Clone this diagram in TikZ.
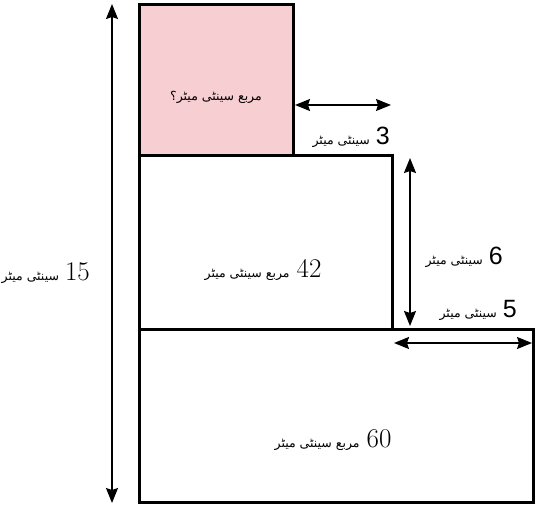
\documentclass[tikz,border=0pt]{standalone}
\usepackage{fontspec}
\usetikzlibrary{arrows.meta}
\newfontfamily\urdufont[Script=Arabic]{DejaVu Sans}
\newfontfamily\numsans{Liberation Sans}
\TeXXeTstate=1
\definecolor{areapink}{RGB}{247,206,209}
\newcommand{\cm}{{\fontsize{12.5bp}{15bp}\urdufont\beginR سینٹی میٹر\endR}\hspace{6bp}}
\newcommand{\sqcm}{{\fontsize{12.5bp}{15bp}\urdufont\beginR مربع سینٹی میٹر\endR}\hspace{7bp}}

\begin{document}
\begin{tikzpicture}[
    x=1bp, y=-1bp,
    >={Stealth[length=15bp, width=12bp, inset=2bp]},
    part/.style={draw, line width=3bp},
    dim/.style={<->, line width=1.6bp},
    arealabel/.style={font=\fontsize{27bp}{30bp}\selectfont, inner sep=0pt},
    sidelabel/.style={font=\fontsize{25bp}{28bp}\numsans, inner sep=0pt, anchor=east},
]
\useasboundingbox (0,0) rectangle (536,506);

% --- the three parts ---
\coordinate (sqtl) at (139,5);
\coordinate (sqbr) at (293,156);
\coordinate (midbr) at (392,329);
\coordinate (botbr) at (533,502);

\filldraw[part, fill=areapink] (sqtl) rectangle (sqbr);
\draw[part] (sqtl |- sqbr) rectangle (midbr);
\draw[part] (sqtl |- midbr) rectangle (botbr);

% --- area labels ---
\node[arealabel] (qarea) at (216,97) {{\fontsize{12.5bp}{15bp}\urdufont\beginR مربع سینٹی میٹر؟\endR}};
\node[arealabel] (midarea) at (263,270) {\sqcm 42};
\node[arealabel] (botarea) at (333,440) {\sqcm 60};

% --- dimension arrows ---
\coordinate (htop) at (112,4);
\coordinate (hbot) at (112,503);
\draw[dim] (htop) -- (hbot);

\coordinate (wl) at (295,105);
\coordinate (wr) at (391,105);
\draw[dim] (wl) -- (wr);

\coordinate (stepup) at (410,158);
\coordinate (stepdn) at (410,326);
\draw[dim] (stepup) -- (stepdn);

\coordinate (ledgel) at (394,343);
\coordinate (ledger) at (532,343);
\draw[dim] (ledgel) -- (ledger);

% --- lengths ---
\node[sidelabel, font=\fontsize{27bp}{30bp}\selectfont] (hlen) at (90,273) {\cm 15};
\node[sidelabel] (wlen) at (390,137) {\cm 3};
\node[sidelabel] (steplen) at (503,257) {\cm 6};
\node[sidelabel] (ledgelen) at (517,310) {\cm 5};

\end{tikzpicture}
\end{document}
